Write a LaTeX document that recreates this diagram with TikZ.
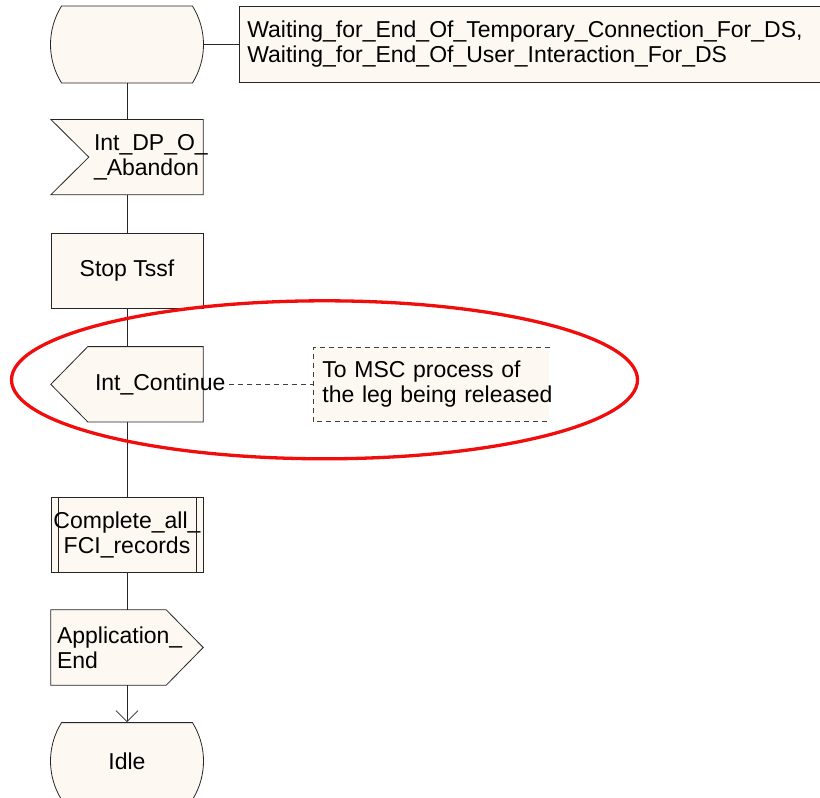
\documentclass[tikz,border=0pt]{standalone}
\usepackage{fontspec}
\setmainfont{Liberation Sans}
\usetikzlibrary{
  arrows.meta,
  positioning,
  shapes.misc,
  backgrounds
}
\definecolor{sdlfill}{HTML}{FEF8F2}
\definecolor{sdlline}{HTML}{262626}
\definecolor{sdlnote}{HTML}{404040}
\definecolor{sdlred}{HTML}{F20D0D}
\newcommand{\sdlfont}{\fontsize{23}{25}\selectfont\hyphenpenalty=10000\relax}

\begin{document}
\begin{tikzpicture}[
      x=1pt, y=1pt,
      node distance=38pt,
      sdlbase/.style={
        minimum width=152pt, minimum height=75pt, inner sep=0pt,
        font=\sdlfont, text=black
      },
      statebox/.style={
        sdlbase, rounded rectangle, rounded rectangle arc length=64,
        minimum width=153pt, minimum height=77pt,
        draw=sdlline, line width=0.8pt, fill=sdlfill
      },
      taskbox/.style={
        sdlbase, rectangle, align=center,
        draw=sdlline, line width=0.8pt, fill=sdlfill
      },
      procbox/.style={
        taskbox,
        path picture={
          \draw[sdlline, line width=0.8pt]
            ([xshift=7pt]path picture bounding box.north west) -- ([xshift=7pt]path picture bounding box.south west)
            ([xshift=-7pt]path picture bounding box.north east) -- ([xshift=-7pt]path picture bounding box.south east);
        }
      },
      signalbox/.style={sdlbase, rectangle, align=left},
      notebox/.style={
        rectangle, fill=sdlfill, font=\sdlfont, text=black,
        inner xsep=8pt, inner ysep=0pt, align=left
      },
      sdlshape/.style={draw=sdlline, line width=0.8pt, fill=sdlfill},
      flow/.style={draw=sdlline, line width=0.8pt},
      notedash/.style={draw=sdlnote, line width=0.8pt, dash pattern=on 5pt off 4pt},
      highlight/.style={draw=sdlred, line width=3.3pt}
    ]
      \useasboundingbox (0,0) rectangle (820,-798);

      \node[statebox] (waitstate) at (127,-44.5) {};
      \node[notebox, draw=sdlline, line width=0.8pt, minimum height=76pt, text width=580pt,
        right=35pt of waitstate] (waittext)
        {Waiting\_for\_End\_Of\_Temporary\_Connection\_For\_DS,\\Waiting\_for\_End\_Of\_User\_Interaction\_For\_DS};

      \node[signalbox, text width=66pt, below=36pt of waitstate] (abandon) {Int\_DP\_O\_\\\_Abandon};
      \node[taskbox, below=of abandon] (stoptssf) {Stop Tssf};
      \node[signalbox, text width=64pt, below=of stoptssf] (continue) {Int\_Continue};
      \node[notebox, minimum height=74pt, text width=218pt, inner xsep=9pt,
        right=110pt of continue] (mscnote) {To MSC process of\\\mbox{the leg being released}};
      \node[procbox, below=75pt of continue] (fcirecords) {Complete\_all\_\\FCI\_records};
      \node[signalbox, text width=140pt, below=37pt of fcirecords] (append) {Application\_\\End};
      \node[statebox, below=37pt of append] (idle) {Idle};

      % signal outlines behind their text
      \begin{scope}[on background layer]
        \draw[sdlshape] (abandon.north west) -- (abandon.north east) -- (abandon.south east)
          -- (abandon.south west) -- ([xshift=38pt]abandon.west) -- cycle;
        \draw[sdlshape] ([xshift=37pt]continue.north west) -- (continue.north east) -- (continue.south east)
          -- ([xshift=37pt]continue.south west) -- (continue.west) -- cycle;
        \draw[sdlshape] (append.north west) -- ([xshift=-37pt]append.north east) -- (append.east)
          -- ([xshift=-37pt]append.south east) -- (append.south west) -- cycle;
      \end{scope}

      \draw[notedash] (mscnote.north east) -- (mscnote.north west) -- (mscnote.south west) -- (mscnote.south east);
      \coordinate (contend) at ([xshift=26pt]continue.east);
      \draw[notedash] (contend) -- (mscnote.west);

      \draw[flow] (waitstate.east) -- (waittext.west);
      \draw[flow] (waitstate.south) -- (abandon.north);
      \draw[flow] (abandon.south) -- (stoptssf.north);
      \draw[flow] (stoptssf.south) -- (continue.north);
      \draw[flow] (continue.south) -- (fcirecords.north);
      \draw[flow] (fcirecords.south) -- (append.north);
      \draw[flow, -{Straight Barb[length=11pt, width=22pt]}] (append.south) -- (idle.north);

      \draw[highlight] ([xshift=197.5pt, yshift=4.5pt]continue.center) ellipse [x radius=313pt, y radius=79pt];
    \end{tikzpicture}
\end{document}
